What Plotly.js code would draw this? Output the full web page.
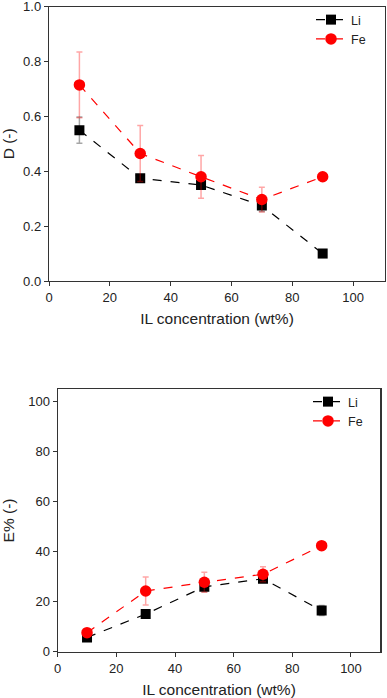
<!DOCTYPE html>
<html>
<head>
<meta charset="utf-8">
<script src="https://cdn.plot.ly/plotly-3.0.1.min.js"></script>
<style>
  html, body { margin: 0; padding: 0; background: #fff; }
  #chart { width: 387px; height: 698px; }
</style>
</head>
<body>
<div id="chart"></div>
<script>
// IL concentration (wt%)
const ilConc = [10, 30, 50, 70, 90];

// distribution ratio D (-)
const dLi = [0.55, 0.375, 0.35, 0.275, 0.10];
const dLiErr = [0.048, 0.01, 0.012, 0.022, 0.008];
const dFe = [0.715, 0.465, 0.38, 0.297, 0.38];
const dFeErr = [0.12, 0.102, 0.078, 0.045, 0.006];

// extraction efficiency E% (-)
const eLi = [5.7, 15.0, 25.9, 29.1, 16.4];
const eLiErr = [0.6, 0.8, 2.0, 1.2, 2.0];
const eFe = [7.6, 24.2, 27.7, 30.9, 42.3];
const eFeErr = [0.8, 5.6, 4.0, 3.0, 0.6];

const W = 387, H = 698;
const FONT = 'Liberation Sans, Arial, sans-serif';

function series(y, err, name, color, symbol, size, xa, ya, legend, errColor) {
    return {
        x: ilConc, y: y, name: name,
        type: 'scatter', mode: 'lines+markers',
        xaxis: xa, yaxis: ya, legend: legend,
        line: { color: color, width: 1.2, dash: 'dash' },
        marker: { color: color, symbol: symbol, size: size },
        error_y: { type: 'data', array: err, visible: true, color: errColor, thickness: 1.5, width: 3 }
    };
}

const data = [
    series(dLi, dLiErr, 'Li', '#000000', 'square', 10, 'x', 'y', 'legend', 'rgba(0,0,0,0.35)'),
    series(dFe, dFeErr, 'Fe', '#ff0000', 'circle', 11.5, 'x', 'y', 'legend', 'rgba(255,0,0,0.35)'),
    series(eLi, eLiErr, 'Li', '#000000', 'square', 10, 'x2', 'y2', 'legend2', 'rgba(0,0,0,0.35)'),
    series(eFe, eFeErr, 'Fe', '#ff0000', 'circle', 11.5, 'x2', 'y2', 'legend2', 'rgba(255,0,0,0.35)')
];

const axisBase = {
    showline: true, linecolor: '#333', linewidth: 1.2, mirror: true,
    ticks: 'outside', ticklen: 4, tickcolor: '#333',
    showgrid: false, zeroline: false, automargin: false,
    ticklabeloverflow: 'allow',
    tickfont: { family: FONT, size: 13, color: '#222' }
};

function titleFont() { return { family: FONT, size: 15.5, color: '#222' }; }

const legendBase = {
    xanchor: 'left', yanchor: 'top',
    bgcolor: 'rgba(0,0,0,0)', tracegroupgap: 0, itemwidth: 30,
    font: { family: FONT, size: 12.5, color: '#222' }
};

const layout = {
    width: W, height: H,
    margin: { l: 0, r: 0, t: 0, b: 0 },
    paper_bgcolor: '#fff', plot_bgcolor: '#fff',
    showlegend: true,
    xaxis: Object.assign({}, axisBase, {
        domain: [49 / W, 385 / W], range: [0, 110.5], dtick: 20,
        anchor: 'y',
        title: { text: 'IL concentration (wt%)', font: titleFont(), standoff: 9 }
    }),
    yaxis: Object.assign({}, axisBase, {
        domain: [1 - 281 / H, 1 - 6.7 / H], range: [0, 1.0001], dtick: 0.2, tickformat: '.1f',
        anchor: 'x',
        title: { text: 'D (-)', font: titleFont(), standoff: 10 }
    }),
    xaxis2: Object.assign({}, axisBase, {
        domain: [57.7 / W, 380.3 / W], range: [0, 110], dtick: 20,
        anchor: 'y2',
        title: { text: 'IL concentration (wt%)', font: titleFont(), standoff: 9 }
    }),
    yaxis2: Object.assign({}, axisBase, {
        domain: [1 - 651.7 / H, 1 - 389.3 / H], range: [0, 104.7], dtick: 20,
        anchor: 'x2',
        title: { text: 'E% (-)', font: titleFont(), standoff: 10 }
    }),
    legend: Object.assign({}, legendBase, { x: 311 / W, y: 1 - 5 / H }),
    legend2: Object.assign({}, legendBase, { x: 308 / W, y: 1 - 387 / H })
};

Plotly.newPlot('chart', data, layout, { displayModeBar: false, staticPlot: true });
</script>
</body>
</html>
